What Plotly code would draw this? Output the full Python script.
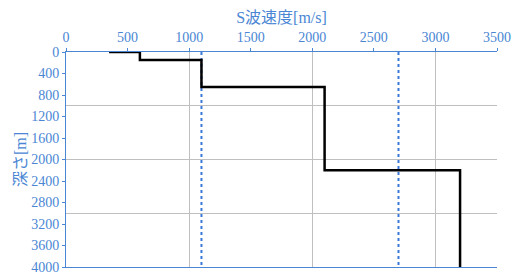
import plotly.graph_objects as go

# Velocity profile (step boundaries)
velocity = [350, 600, 1100, 2100, 3200]
depth = [0, 150, 650, 2200, 4000]

# Reference velocity lines (dotted)
ref_velocities = [1100, 2700]
ref_depth = [0, 4000]

x_ticks = [0, 500, 1000, 1500, 2000, 2500, 3000, 3500]
y_ticks = [0, 400, 800, 1200, 1600, 2000, 2400, 2800, 3200, 3600, 4000]

BLUE = "#4a86d4"
FONT = "Liberation Serif"
TFONT = "Liberation Serif, Noto Sans CJK JP"

fig = go.Figure()
for v in ref_velocities:
    fig.add_trace(go.Scatter(x=[v, v], y=ref_depth, mode="lines",
                             line=dict(color="#3a78d8", width=2, dash="dot"),
                             showlegend=False, hoverinfo="skip"))
fig.add_trace(go.Scatter(x=velocity, y=depth, mode="lines", line_shape="hv",
                         line=dict(color="black", width=2.5), showlegend=False))

fig.update_layout(
    width=514, height=276,
    margin=dict(l=66, r=17, t=52, b=9),
    paper_bgcolor="white", plot_bgcolor="white",
    font=dict(family=FONT, color=BLUE, size=14),
    xaxis=dict(
        side="top", range=[0, 3500], tickvals=x_ticks, automargin=False,
        showgrid=False, zeroline=False,
        showline=True, linecolor=BLUE, linewidth=1, mirror=True,
        ticks="outside", ticklen=3, tickcolor=BLUE,
        tickfont=dict(family=FONT, size=14, color=BLUE),
        title=dict(text="S波速度[m/s]", font=dict(family=TFONT, size=16, color=BLUE), standoff=2),
        minor=dict(tickvals=[1000, 2000, 3000], showgrid=True, gridcolor="#bfbfbf", gridwidth=1, ticks=""),
    ),
    yaxis=dict(
        range=[4000, 0], tickvals=y_ticks, automargin=False,
        showgrid=False, zeroline=False,
        showline=True, linecolor=BLUE, linewidth=1,
        ticks="outside", ticklen=3, tickcolor=BLUE,
        tickfont=dict(family=FONT, size=14, color=BLUE),
        title=dict(text="深さ[m]", font=dict(family=TFONT, size=16, color=BLUE), standoff=0),
        minor=dict(tickvals=[1000, 2000, 3000], showgrid=True, gridcolor="#bfbfbf", gridwidth=1, ticks=""),
    ),
)

fig.write_html("out.html", config={"displayModeBar": False},
               post_script="document.body.style.margin='0px';document.body.style.padding='0px';")
